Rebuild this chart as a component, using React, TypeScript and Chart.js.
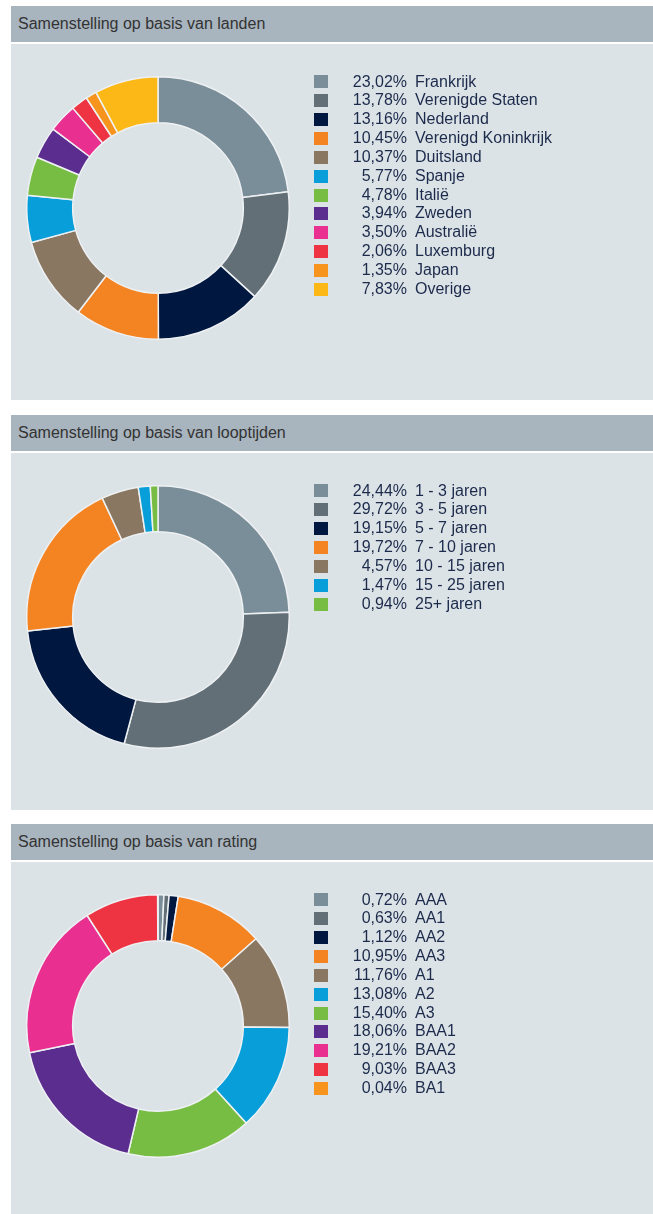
import React, { useEffect, useRef } from "react";
import { Chart, registerables } from "chart.js";

Chart.register(...registerables);

const countryLabels = ["Frankrijk", "Verenigde Staten", "Nederland", "Verenigd Koninkrijk", "Duitsland", "Spanje", "Italië", "Zweden", "Australië", "Luxemburg", "Japan", "Overige"];
const countryValues = [23.02, 13.78, 13.16, 10.45, 10.37, 5.77, 4.78, 3.94, 3.5, 2.06, 1.35, 7.83];

const maturityLabels = ["1 - 3 jaren", "3 - 5 jaren", "5 - 7 jaren", "7 - 10 jaren", "10 - 15 jaren", "15 - 25 jaren", "25+ jaren"];
const maturityValues = [24.44, 29.72, 19.15, 19.72, 4.57, 1.47, 0.94];

const ratingLabels = ["AAA", "AA1", "AA2", "AA3", "A1", "A2", "A3", "BAA1", "BAA2", "BAA3", "BA1"];
const ratingValues = [0.72, 0.63, 1.12, 10.95, 11.76, 13.08, 15.4, 18.06, 19.21, 9.03, 0.04];

const palette = ["#7a8e99", "#636f77", "#00183f", "#f48322", "#8a7762", "#089ed9", "#77bd43", "#5b2d8e", "#e92f8f", "#ee3342", "#f7941e", "#fcb816"];

const titles = ["Samenstelling op basis van landen", "Samenstelling op basis van looptijden", "Samenstelling op basis van rating"];

const FONT = '"Liberation Sans", Arial, sans-serif';
const fmt = (v: number) => v.toFixed(2).replace(".", ",") + "%";

function Donut({ labels, values }: { labels: string[]; values: number[] }) {
  const ref = useRef<HTMLCanvasElement | null>(null);
  useEffect(() => {
    if (!ref.current) return;
    const chart = new Chart(ref.current, {
      type: "doughnut",
      data: {
        labels,
        datasets: [
          {
            data: values,
            backgroundColor: palette.slice(0, values.length),
            borderColor: "#eef1f3",
            borderWidth: 1.5,
          },
        ],
      },
      options: {
        responsive: false,
        animation: false,
        cutout: "65%",
        layout: { padding: 0 },
        plugins: { legend: { display: false }, tooltip: { enabled: false } },
      },
    });
    return () => chart.destroy();
  }, []);
  return (
    <canvas
      ref={ref}
      width={264}
      height={264}
      style={{ position: "absolute", left: 15, top: 32, width: 264, height: 264 }}
    />
  );
}

function Panel({ top, bodyHeight, title, labels, values }: { top: number; bodyHeight: number; title: string; labels: string[]; values: number[] }) {
  const rowH = 18.85;
  return (
    <div style={{ position: "absolute", left: 11, top, width: 642 }}>
      <div
        style={{
          height: 36,
          background: "#a8b4be",
          color: "#333333",
          fontFamily: FONT,
          fontSize: 16,
          lineHeight: "36px",
          paddingLeft: 7,
          boxSizing: "border-box",
          whiteSpace: "nowrap",
        }}
      >
        {title}
      </div>
      <div style={{ height: 2, background: "#ffffff" }} />
      <div style={{ position: "relative", height: bodyHeight, background: "#dce3e6" }}>
        <Donut labels={labels} values={values} />
        <div style={{ position: "absolute", left: 0, top: 38 - rowH / 2, width: 642 }}>
          {labels.map((lab, i) => (
            <div key={i} style={{ position: "relative", height: rowH, fontFamily: FONT, fontSize: 16, color: "#1c2a4c", lineHeight: rowH + "px", whiteSpace: "nowrap" }}>
              <div style={{ position: "absolute", left: 303, top: (rowH - 13) / 2, width: 14, height: 13, background: palette[i] }} />
              <span style={{ position: "absolute", left: 316, width: 80, textAlign: "right" }}>{fmt(values[i])}</span>
              <span style={{ position: "absolute", left: 404 }}>{lab}</span>
            </div>
          ))}
        </div>
      </div>
    </div>
  );
}

export default function App() {
  return (
    <div style={{ position: "absolute", left: 0, top: 0, width: 653, height: 1214, overflow: "hidden", background: "#ffffff" }}>
      <Panel top={6} bodyHeight={356} title={titles[0]} labels={countryLabels} values={countryValues} />
      <Panel top={415} bodyHeight={357} title={titles[1]} labels={maturityLabels} values={maturityValues} />
      <Panel top={824} bodyHeight={360} title={titles[2]} labels={ratingLabels} values={ratingValues} />
    </div>
  );
}
